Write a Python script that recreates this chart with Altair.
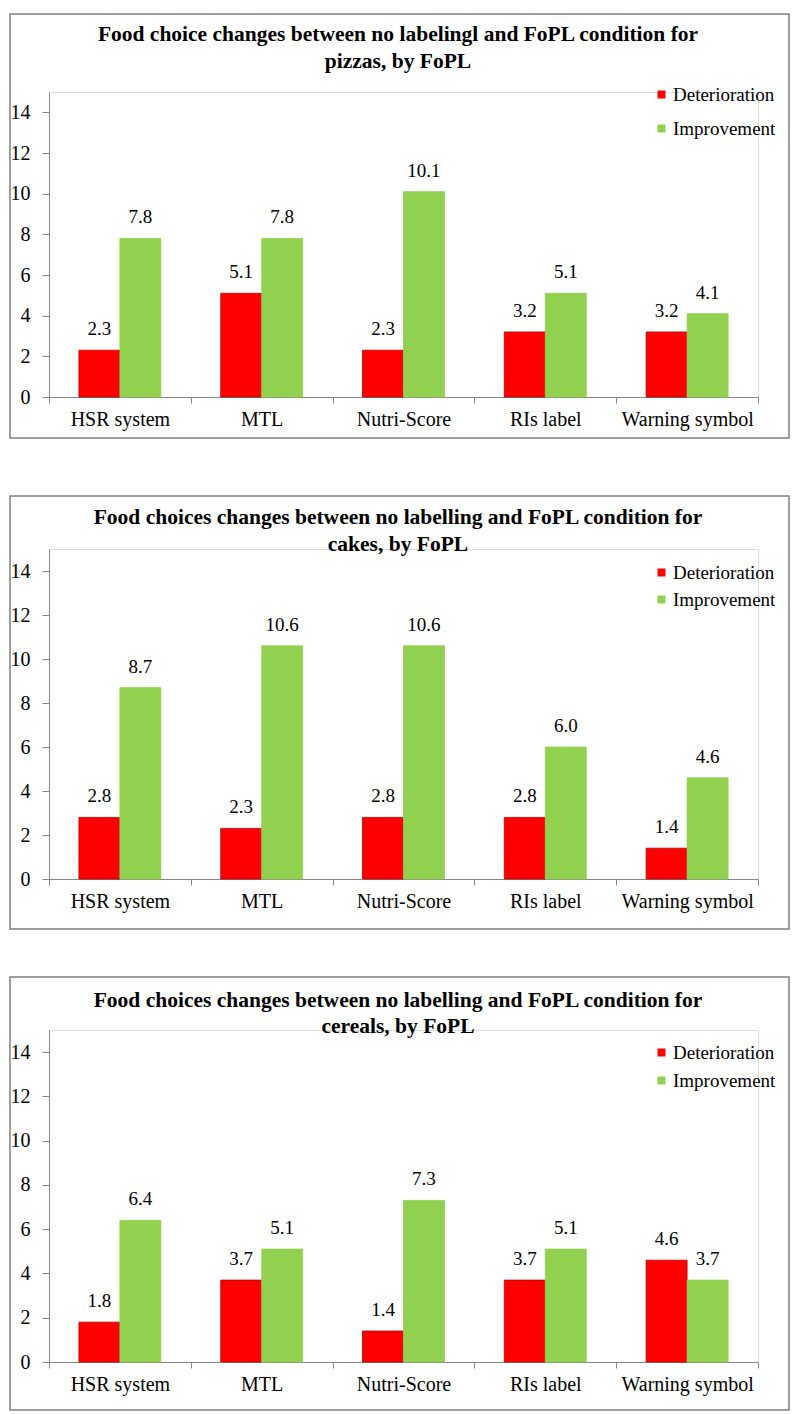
import altair as alt
import pandas as pd

categories = ["HSR system", "MTL", "Nutri-Score", "RIs label", "Warning symbol"]
series = ["Deterioration", "Improvement"]

pizzas_det = [2.3, 5.1, 2.3, 3.2, 3.2]
pizzas_imp = [7.8, 7.8, 10.1, 5.1, 4.1]
cakes_det = [2.8, 2.3, 2.8, 2.8, 1.4]
cakes_imp = [8.7, 10.6, 10.6, 6.0, 4.6]
cereals_det = [1.8, 3.7, 1.4, 3.7, 4.6]
cereals_imp = [6.4, 5.1, 7.3, 5.1, 3.7]

titles = [
    ["Food choice changes between no labelingl and FoPL condition for", "pizzas, by FoPL"],
    ["Food choices changes between no labelling and FoPL condition for", "cakes, by FoPL"],
    ["Food choices changes between no labelling and FoPL condition for", "cereals, by FoPL"],
]

FONT = "Liberation Serif"
W = 709


def make_df(det, imp):
    rows = []
    for c, d, i in zip(categories, det, imp):
        rows.append({"fopl": c, "series": "Deterioration", "value": d})
        rows.append({"fopl": c, "series": "Improvement", "value": i})
    return pd.DataFrame(rows)


def panel(det, imp, title_lines, h, box_top, box_bottom, t1, t2, leg_y, row_pad):
    df = make_df(det, imp)
    x = alt.X("fopl:N", sort=categories, title=None,
              scale=alt.Scale(paddingInner=0, paddingOuter=0),
              axis=alt.Axis(tickBand="extent", labelAngle=0, labelFont=FONT,
                            labelFontSize=20, labelColor="black", tickSize=6,
                            labelPadding=6, domainColor="#868686",
                            tickColor="#868686", labelBaseline="top"))
    xo = alt.XOffset("series:N", sort=series,
                     scale=alt.Scale(paddingOuter=0.73, paddingInner=0))
    y = alt.Y("value:Q", title=None,
              scale=alt.Scale(domain=[0, 15], nice=False),
              axis=alt.Axis(values=[0, 2, 4, 6, 8, 10, 12, 14], grid=False,
                            labelFont=FONT, labelFontSize=20, labelColor="black",
                            tickSize=7, labelPadding=12, domainColor="#868686",
                            tickColor="#868686"))
    base = alt.Chart(df)
    bars = base.mark_bar(strokeWidth=0.8).encode(
        x=x, xOffset=xo, y=y,
        color=alt.Color("series:N", sort=series,
                        scale=alt.Scale(domain=series, range=["#FF0000", "#92D050"]),
                        legend=alt.Legend(title=None, orient="none", legendX=603,
                                          legendY=leg_y, symbolType="square",
                                          symbolSize=64, symbolStrokeWidth=0,
                                          labelFont=FONT, labelFontSize=19,
                                          labelColor="black", labelOffset=2,
                                          rowPadding=row_pad, padding=0)),
        stroke=alt.Stroke("series:N", sort=series,
                          scale=alt.Scale(domain=series, range=["#B00000", "#92D050"]),
                          legend=None),
    )
    labels = base.mark_text(font=FONT, fontSize=19, baseline="middle", dy=-21,
                            color="black").encode(
        x=x, xOffset=xo, y=y, text=alt.Text("value:Q", format=".1f"))
    one = alt.Chart(pd.DataFrame({"k": [0]}))
    box = one.mark_rect(fillOpacity=0, stroke="#808080", strokeWidth=1.5).encode(
        x=alt.value(-39), x2=alt.value(740), y=alt.value(box_top), y2=alt.value(box_bottom))
    tl1 = one.mark_text(font=FONT, fontSize=21.5, fontWeight="bold", color="black",
                        baseline="middle").encode(
        x=alt.value(349), y=alt.value(t1), text=alt.value(title_lines[0]))
    tl2 = one.mark_text(font=FONT, fontSize=21.5, fontWeight="bold", color="black",
                        baseline="middle").encode(
        x=alt.value(349), y=alt.value(t2), text=alt.value(title_lines[1]))
    return alt.layer(box, bars, labels, tl1, tl2).properties(width=W, height=h)


p1 = panel(pizzas_det, pizzas_imp, titles[0], 305, -78, 346, -57, -30, -7, 14)
p2 = panel(cakes_det, cakes_imp, titles[1], 330, -53, 380, -31, -4, 14, 7)
p3 = panel(cereals_det, cereals_imp, titles[2], 332, -53, 380, -29, -3, 13, 8)

lower = alt.vconcat(p2, p3, spacing=44).resolve_scale(
    x="independent", y="independent", color="independent", stroke="independent"
).resolve_legend(color="independent")

chart = alt.vconcat(p1, lower, spacing=54).resolve_scale(
    x="independent", y="independent", color="independent", stroke="independent"
).resolve_legend(color="independent").properties(
    padding={"left": 0, "top": 4, "right": 0, "bottom": 0}
).configure_view(stroke=None).configure(background="white")

chart.save("out.html", embed_options={"renderer": "svg", "actions": False})
